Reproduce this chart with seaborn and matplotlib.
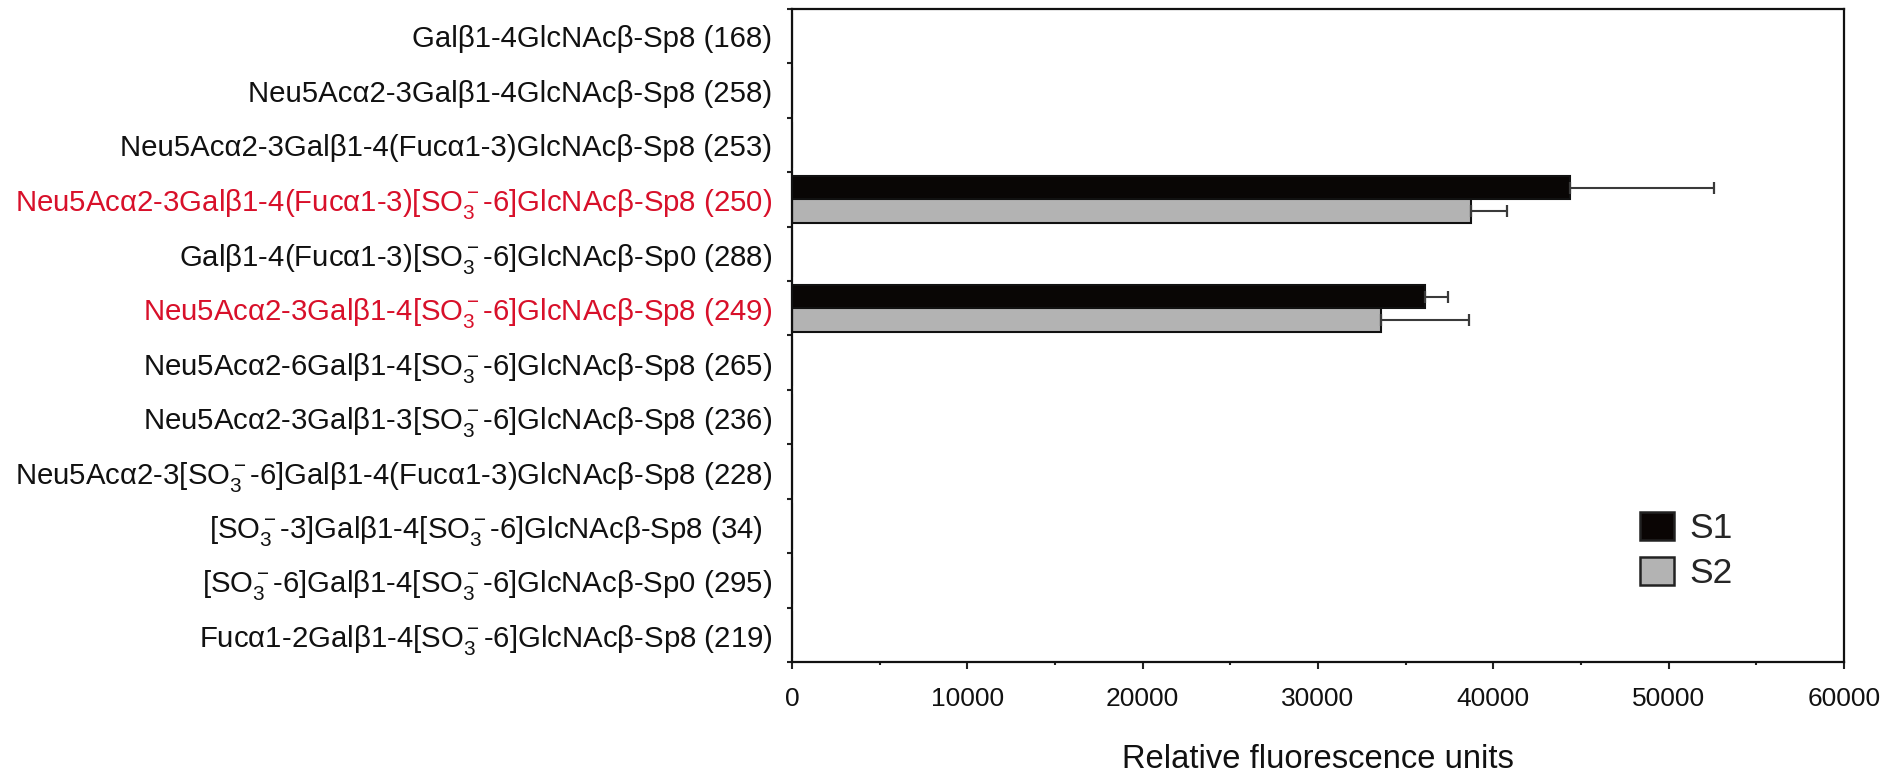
import numpy as np
import pandas as pd
import matplotlib
matplotlib.use('Agg')
import matplotlib.pyplot as plt
import seaborn as sns
from matplotlib.patches import Patch
from matplotlib.ticker import MultipleLocator, FixedLocator

# ---------------- data ----------------
categories = [
    'Galβ1-4GlcNAcβ-Sp8 (168)',
    'Neu5Acα2-3Galβ1-4GlcNAcβ-Sp8 (258)',
    'Neu5Acα2-3Galβ1-4(Fucα1-3)GlcNAcβ-Sp8 (253)',
    'Neu5Acα2-3Galβ1-4(Fucα1-3)[SO$_3^-$-6]GlcNAcβ-Sp8 (250)',
    'Galβ1-4(Fucα1-3)[SO$_3^-$-6]GlcNAcβ-Sp0 (288)',
    'Neu5Acα2-3Galβ1-4[SO$_3^-$-6]GlcNAcβ-Sp8 (249)',
    'Neu5Acα2-6Galβ1-4[SO$_3^-$-6]GlcNAcβ-Sp8 (265)',
    'Neu5Acα2-3Galβ1-3[SO$_3^-$-6]GlcNAcβ-Sp8 (236)',
    'Neu5Acα2-3[SO$_3^-$-6]Galβ1-4(Fucα1-3)GlcNAcβ-Sp8 (228)',
    '[SO$_3^-$-3]Galβ1-4[SO$_3^-$-6]GlcNAcβ-Sp8 (34)  ',
    '[SO$_3^-$-6]Galβ1-4[SO$_3^-$-6]GlcNAcβ-Sp0 (295)',
    'Fucα1-2Galβ1-4[SO$_3^-$-6]GlcNAcβ-Sp8 (219)',
]
highlighted = [3, 5]
series_names = ['S1', 'S2']
s1_values = [0, 0, 0, 44400, 0, 36100, 0, 0, 0, 0, 0, 0]
s1_errors = [0, 0, 0, 8200, 0, 1300, 0, 0, 0, 0, 0, 0]
s2_values = [0, 0, 0, 38700, 0, 33600, 0, 0, 0, 0, 0, 0]
s2_errors = [0, 0, 0, 2100, 0, 5000, 0, 0, 0, 0, 0, 0]
x_ticks = [0, 10000, 20000, 30000, 40000, 50000, 60000]
x_label = 'Relative fluorescence units'

# ---------------- style ----------------
sns.set_style('ticks')
plt.rcParams['font.family'] = ['Liberation Sans', 'DejaVu Sans']
plt.rcParams['mathtext.fontset'] = 'custom'
plt.rcParams['mathtext.rm'] = 'Liberation Sans'
plt.rcParams['mathtext.it'] = 'Liberation Sans:italic'
plt.rcParams['mathtext.bf'] = 'Liberation Sans:bold'

colors = {'S1': '#0a0504', 'S2': '#b3b3b3'}
red = '#d8102a'

df = pd.DataFrame({
    'glycan': categories * 2,
    'series': [series_names[0]] * len(categories) + [series_names[1]] * len(categories),
    'value': s1_values + s2_values,
})

fig = plt.figure(figsize=(18.93, 7.73), dpi=100)
ax = fig.add_axes([0.4184, 0.1436, 0.5557, 0.8448])

sns.barplot(data=df, y='glycan', x='value', hue='series', order=categories,
            hue_order=series_names, palette=colors, orient='h', width=0.86,
            edgecolor='#111111', linewidth=1.5, errorbar=None, legend=False,
            ax=ax)

# error bars (positive direction only)
errs_all = [s1_errors, s2_errors]
vals_all = [s1_values, s2_values]
for cont, vals, errs in zip(ax.containers, vals_all, errs_all):
    ys, xs, es = [], [], []
    for p, v, e in zip(cont.patches, vals, errs):
        if e > 0:
            ys.append(p.get_y() + p.get_height() / 2)
            xs.append(v)
            es.append(e)
    ax.errorbar(xs, ys, xerr=[np.zeros(len(es)), es], fmt='none',
                ecolor='#3a3a3a', elinewidth=1.5, capsize=4.5, capthick=1.6,
                zorder=1)

ax.set_xlim(0, 60000)
ax.set_ylim(len(categories) - 0.5, -0.5)
ax.xaxis.set_major_locator(FixedLocator(x_ticks))
ax.xaxis.set_minor_locator(MultipleLocator(5000))
ax.set_xticklabels([str(t) for t in x_ticks])
ax.yaxis.set_minor_locator(FixedLocator(np.arange(-0.5, len(categories), 1.0)))

ax.tick_params(axis='x', which='major', length=5, width=1.5, pad=13,
               labelsize=19, color='#222222', labelcolor='#111111')
ax.tick_params(axis='x', which='minor', length=2.5, width=1.5, color='#222222')
ax.tick_params(axis='y', which='major', length=0, pad=14, labelsize=21.2,
               labelcolor='#111111')
ax.tick_params(axis='y', which='minor', length=3.5, width=1.5, color='#222222')

for i, lab in enumerate(ax.get_yticklabels()):
    if i in highlighted:
        lab.set_color(red)

for side in ['left', 'right', 'top', 'bottom']:
    ax.spines[side].set_visible(True)
    ax.spines[side].set_linewidth(1.6)
    ax.spines[side].set_color('#111111')

ax.set_ylabel('')
ax.set_xlabel(x_label, fontsize=23.6, labelpad=24, color='#111111')

handles = [Patch(facecolor=colors[s], edgecolor='#222222', linewidth=1.8, label=s)
           for s in series_names]
ax.legend(handles=handles, loc='upper left', bbox_to_anchor=(0.806, 0.230),
          frameon=False, fontsize=25.5, handlelength=0.96, handleheight=0.85,
          handletextpad=0.45, labelspacing=0.32, borderpad=0, borderaxespad=0)

fig.savefig('out.png', dpi=100)
